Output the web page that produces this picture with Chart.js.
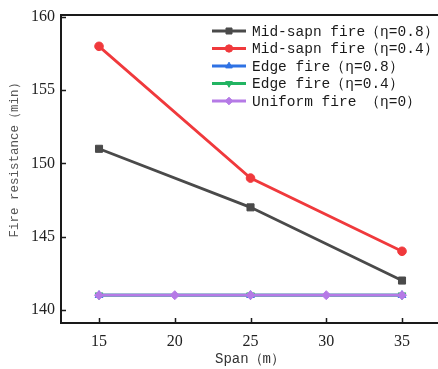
<!DOCTYPE html>
<html>
<head>
<meta charset="utf-8">
<script src="https://cdn.jsdelivr.net/npm/chart.js@4/dist/chart.umd.min.js"></script>
<style>
  html, body { margin: 0; padding: 0; background: #fff; }
  canvas { display: block; }
</style>
</head>
<body>
<canvas id="c" width="438" height="369"></canvas>
<script>
// Span values (m) for each series
const spans = [15, 25, 35];
const uniformSpans = [15, 20, 25, 30, 35];

// Fire resistance (min)
const midFire08 = [151, 147, 142];
const midFire04 = [158, 149, 144];
const edgeFire08 = [141, 141, 141];
const edgeFire04 = [141, 141, 141];
const uniformFire = [141, 141, 141, 141, 141];

// Axis ticks and labels
const xTicks = [15, 20, 25, 30, 35];
const yTicks = [140, 145, 150, 155, 160];
const seriesNames = [
  'Mid-sapn fire（η=0.8）',
  'Mid-sapn fire（η=0.4）',
  'Edge fire（η=0.8）',
  'Edge fire（η=0.4）',
  'Uniform fire （η=0）'
];
const xTitle = 'Span（m）';
const yTitle = 'Fire resistance（min）';

const toPoints = (xs, ys) => xs.map((x, i) => ({ x: x, y: ys[i] }));

function series(label, xs, ys, color, style, radius, order) {
  return {
    label: label,
    data: toPoints(xs, ys),
    borderColor: color,
    backgroundColor: color,
    pointBackgroundColor: color,
    pointBorderColor: color,
    borderWidth: 2.8,
    pointStyle: style,
    pointRadius: radius,
    pointBorderWidth: 1,
    tension: 0,
    order: order
  };
}

const datasets = [
  series(seriesNames[0], spans, midFire08, '#4a4a4a', 'rect', 5, 1),
  series(seriesNames[1], spans, midFire04, '#f0393c', 'circle', 4.3, 1),
  series(seriesNames[2], spans, edgeFire08, '#2f72e4', 'triangle', 4.5, 3),
  series(seriesNames[3], spans, edgeFire04, '#22b462', 'triangle', 4.5, 2),
  series(seriesNames[4], uniformSpans, uniformFire, '#b57ae6', 'rectRot', 4.5, 0)
];
// Edge fire (η=0.4) uses a downward triangle
datasets[3].pointRotation = 180;

const axisColor = '#1a1a1a';

// Frame lines (top and bottom run to the canvas edge), inward ticks, titles, legend
const decorations = {
  id: 'decorations',
  afterDraw(chart) {
    const ctx = chart.ctx;
    const area = chart.chartArea;
    const xs = chart.scales.x, ys = chart.scales.y;
    ctx.save();
    ctx.strokeStyle = axisColor;
    ctx.lineWidth = 2;
    ctx.beginPath();
    ctx.moveTo(area.left - 1, area.top);
    ctx.lineTo(chart.width, area.top);
    ctx.moveTo(area.left - 1, area.bottom);
    ctx.lineTo(chart.width, area.bottom);
    ctx.stroke();

    ctx.lineWidth = 1.5;
    ctx.beginPath();
    xTicks.forEach(v => {
      const px = Math.round(xs.getPixelForValue(v)) + 0.5;
      ctx.moveTo(px, area.bottom);
      ctx.lineTo(px, area.bottom - 5);
    });
    yTicks.forEach(v => {
      const py = Math.round(ys.getPixelForValue(v)) + 0.5;
      ctx.moveTo(area.left, py);
      ctx.lineTo(area.left + 5, py);
    });
    ctx.stroke();

    // axis titles
    ctx.fillStyle = '#333';
    ctx.font = '14px "Liberation Mono", monospace';
    ctx.textAlign = 'center';
    ctx.textBaseline = 'middle';
    ctx.fillText(xTitle, 250, 359);

    ctx.save();
    ctx.translate(15, 157);
    ctx.rotate(-Math.PI / 2);
    ctx.fillStyle = '#555';
    ctx.font = '12.5px "Liberation Mono", monospace';
    ctx.fillText(yTitle, 0, 0);
    ctx.restore();

    // legend
    const lx0 = 212, lx1 = 246, tx = 252, y0 = 31, step = 17.5;
    ctx.font = '14.5px "Liberation Mono", monospace';
    ctx.textAlign = 'left';
    chart.data.datasets.forEach((ds, i) => {
      const y = y0 + i * step;
      ctx.strokeStyle = ds.borderColor;
      ctx.lineWidth = ds.borderWidth;
      ctx.beginPath();
      ctx.moveTo(lx0, y);
      ctx.lineTo(lx1, y);
      ctx.stroke();
      ctx.fillStyle = ds.pointBackgroundColor;
      ctx.strokeStyle = ds.pointBorderColor;
      ctx.lineWidth = 1;
      Chart.helpers.drawPoint(ctx, {
        pointStyle: ds.pointStyle,
        radius: ds.pointRadius * 0.85,
        borderWidth: 1,
        rotation: ds.pointRotation || 0
      }, (lx0 + lx1) / 2, y);
      ctx.fillStyle = '#1a1a1a';
      ctx.fillText(ds.label, tx, y + 1);
    });
    ctx.restore();
  }
};

new Chart(document.getElementById('c'), {
  type: 'line',
  data: { datasets: datasets },
  options: {
    responsive: false,
    animation: false,
    devicePixelRatio: 1,
    layout: { padding: { top: 15, right: 0, left: 0, bottom: 0 } },
    plugins: { legend: { display: false }, tooltip: { enabled: false } },
    scales: {
      x: {
        type: 'linear',
        min: 12.49,
        max: 36.98,
        afterBuildTicks: s => { s.ticks = xTicks.map(v => ({ value: v })); },
        afterFit: s => { s.height = 46; s.paddingLeft = 0; s.paddingRight = 0; },
        grid: { drawOnChartArea: false, drawTicks: false },
        border: { color: axisColor, width: 2 },
        ticks: {
          color: '#222',
          padding: 9,
          maxRotation: 0,
          font: { family: '"Liberation Serif", serif', size: 16 }
        }
      },
      y: {
        type: 'linear',
        min: 139.1,
        max: 160.14,
        afterBuildTicks: s => { s.ticks = yTicks.map(v => ({ value: v })); },
        afterFit: s => { s.width = 61; s.paddingTop = 0; s.paddingBottom = 0; },
        grid: { drawOnChartArea: false, drawTicks: false },
        border: { color: axisColor, width: 2 },
        ticks: {
          color: '#222',
          padding: 6,
          font: { family: '"Liberation Serif", serif', size: 16 }
        }
      }
    }
  },
  plugins: [decorations]
});
</script>
</body>
</html>
